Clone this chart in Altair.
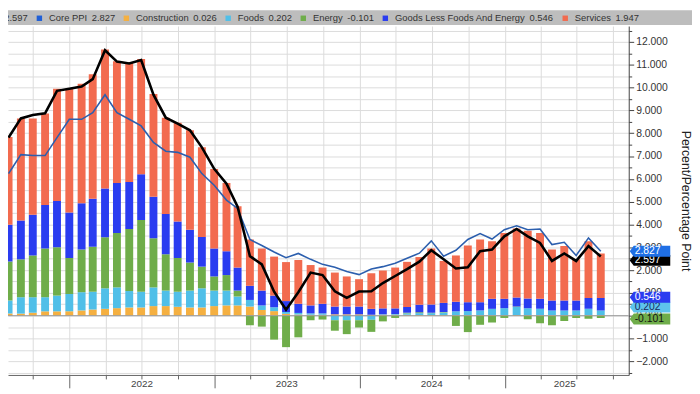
import altair as alt
import pandas as pd

# ---------------- data ----------------
dates = [d.strftime("%Y-%m-%d") for d in
         pd.date_range("2021-07-31", periods=50, freq=pd.offsets.MonthEnd())]

construction = [0.09, 0.09, 0.13, 0.19, 0.19, 0.19,
                0.23, 0.27, 0.30, 0.33, 0.36, 0.36, 0.42, 0.42, 0.39, 0.36, 0.36, 0.42,
                0.45, 0.45, 0.40, 0.25, 0.20, 0.08, 0.05, 0.04, 0.04, 0.06, 0.06, 0.06,
                0.04, 0.04, 0.04, 0.04, 0.03, 0.03, 0.03, 0.03, 0.03, 0.03, 0.03, 0.03,
                0.03, 0.03, 0.03, 0.03, 0.03, 0.03, 0.03, 0.026]
foods = [0.57, 0.72, 0.68, 0.62, 0.69, 0.76,
         0.80, 0.78, 0.90, 0.91, 0.72, 0.69, 0.82, 0.68, 0.66, 0.74, 0.84, 0.68,
         0.65, 0.39, 0.29, 0.20, 0.17, 0.08, 0.07, 0.06, 0.06, -0.20, -0.20, -0.20,
         -0.18, 0.02, 0.03, 0.06, 0.08, 0.08, 0.11, 0.16, 0.17, 0.20, 0.27, 0.30,
         0.35, 0.30, 0.27, 0.20, 0.20, 0.20, 0.27, 0.202]
energy = [1.71, 1.66, 1.83, 2.14, 2.12, 1.58,
          1.87, 1.97, 2.24, 2.39, 2.72, 3.15, 2.15, 1.59, 1.48, 1.23, 0.95, 0.62,
          0.68, 0.26, -0.42, -0.48, -1.05, -1.38, -0.95, -0.20, -0.17, -0.46, -0.61, -0.32,
          -0.53, -0.25, -0.10, 0.03, 0.04, 0.02, 0.02, -0.45, -0.72, -0.40, -0.30, -0.10,
          0.02, -0.16, -0.33, -0.42, -0.23, -0.10, -0.13, -0.101]
goods = [1.62, 1.70, 1.78, 1.90, 2.03, 1.99,
         2.03, 2.11, 2.14, 2.19, 2.06, 2.00, 1.82, 1.77, 1.60, 1.44, 1.30, 1.23,
         1.05, 1.01, 0.62, 0.65, 0.51, 0.48, 0.40, 0.35, 0.42, 0.34, 0.34, 0.34,
         0.26, 0.26, 0.25, 0.25, 0.33, 0.36, 0.40, 0.42, 0.39, 0.36, 0.44, 0.41,
         0.40, 0.42, 0.44, 0.43, 0.43, 0.43, 0.48, 0.546]
services = [3.85, 4.48, 4.23, 4.02, 4.92, 5.43,
            5.24, 5.46, 6.09, 5.34, 5.24, 5.05, 4.51, 4.22, 4.33, 4.36, 3.93, 3.48,
            2.99, 2.69, 2.03, 1.85, 1.71, 1.71, 1.92, 1.77, 1.59, 1.49, 1.32, 1.20,
            1.56, 1.66, 1.79, 1.98, 2.09, 2.46, 1.84, 2.03, 2.49, 2.75, 2.52, 2.88,
            3.02, 2.97, 2.88, 2.24, 2.39, 1.81, 2.48, 1.947]
headline = [7.81, 8.65, 8.80, 8.87, 9.86, 9.95,
            10.05, 10.37, 11.64, 11.14, 11.06, 11.21, 9.69, 8.68, 8.42, 8.13, 7.38, 6.44,
            5.79, 4.78, 2.61, 2.25, 1.05, 0.26, 1.03, 1.89, 1.78, 1.07, 0.78, 1.06,
            1.07, 1.43, 1.74, 2.04, 2.37, 2.87, 2.47, 2.07, 2.12, 2.83, 2.90, 3.48,
            3.80, 3.48, 3.19, 2.40, 2.73, 2.40, 3.05, 2.597]
core = [6.23, 7.06, 7.02, 7.02, 7.81, 8.61,
        8.61, 8.90, 9.69, 8.90, 8.61, 8.32, 7.60, 7.21, 7.16, 6.95, 6.23, 5.72,
        5.07, 4.70, 3.34, 3.08, 2.79, 2.54, 2.73, 2.47, 2.25, 2.12, 1.94, 1.80,
        2.05, 2.15, 2.30, 2.52, 2.74, 3.28, 2.61, 2.87, 3.34, 3.60, 3.36, 3.77,
        3.94, 3.77, 3.80, 3.12, 3.22, 2.64, 3.41, 2.827]

series_names = ["PPI Final Demand", "Core PPI", "Construction", "Foods", "Energy",
                "Goods Less Foods And Energy", "Services"]
last_values = [2.597, 2.827, 0.026, 0.202, -0.101, 0.546, 1.947]
series_colors = ["#000000", "#1f5fd6", "#f5b041", "#50bfe8", "#6fad4a", "#2a3cf0", "#f26b4f"]
legend_labels = [f"{n}\u2002{v:.3f}" for n, v in zip(series_names, last_values)]

year_labels = ["2022", "2023", "2024", "2025"]
year_label_dates = ["2022-07-02", "2023-07-02", "2024-07-01", "2025-06-01"]

# ---------------- tables ----------------
components = [construction, foods, energy, goods, services]
rows = []
for k, comp in enumerate(components):
    lab = legend_labels[k + 2]
    for d, v in zip(dates, comp):
        rows.append({"date": d, "value": v, "label": lab, "ord": k})
bars_df = pd.DataFrame(rows)
head_df = pd.DataFrame({"date": dates, "value": headline})
core_df = pd.DataFrame({"date": dates, "value": core})
years_df = pd.DataFrame({"date": year_label_dates, "label": year_labels})

def ms(s):
    return int(pd.Timestamp(s).value // 10**6)

W, H = 628, 353
TOP, RIGHT, BOTTOM = 16, 64, 17
FONT = "Liberation Sans"

quarters = [ms(d) for d in pd.date_range("2021-10-01", "2025-10-01", freq=pd.offsets.QuarterBegin(startingMonth=1))]

xscale = alt.Scale(domain=[ms("2021-08-11"), ms("2025-10-28")])
xaxis = alt.Axis(values=quarters, labels=False, title=None, grid=True,
                 gridColor="#dcdcdc", gridWidth=1, domainColor="#666", tickColor="#666",
                 tickSize={"condition": {"test": "utcmonth(datum.value) === 0", "value": 13},
                           "value": 4})
yscale = alt.Scale(domain=[-2.60, 12.70], nice=False, zero=False)
yaxis = alt.Axis(orient="right", values=[v / 2 for v in range(-5, 26)],
                 labelExpr="datum.value % 1 === 0 ? format(datum.value, '.3f') : ''",
                 labelOverlap=False, grid=True, gridColor="#dcdcdc", domainColor="#444",
                 tickColor="#444",
                 tickSize={"condition": {"test": "datum.value % 1 !== 0", "value": 3},
                           "value": 5},
                 labelFont=FONT, labelFontSize=10.5, labelColor="#333", labelPadding=2,
                 title="Percent/Percentage Point", titleFont=FONT, titleFontSize=12.5,
                 titleFontWeight="normal", titleColor="#222", titlePadding=11)

X = alt.X("date:T", scale=xscale, axis=xaxis)

band = alt.Chart(pd.DataFrame({"a": [0]})).mark_rect(color="#bdbdbd").encode(
    x=alt.value(0), x2=alt.value(W + RIGHT), y=alt.value(-TOP), y2=alt.value(-1))

bars = alt.Chart(bars_df).mark_bar(size=8, clip=True).encode(
    x=X,
    y=alt.Y("value:Q", stack="zero", scale=yscale, axis=yaxis),
    color=alt.Color("label:N",
                    scale=alt.Scale(domain=legend_labels, range=series_colors),
                    legend=alt.Legend(orient="none", legendX=-100, legendY=-13,
                                      direction="horizontal", columns=7, title=None,
                                      symbolType="square", symbolSize=30,
                                      symbolStrokeWidth=0, labelFont=FONT,
                                      labelFontSize=9.5, labelColor="#333",
                                      columnPadding=6, labelOffset=5,
                                      labelLimit=400, padding=0)),
    order=alt.Order("ord:Q", sort="ascending"))

Y = alt.Y("value:Q", scale=yscale, axis=yaxis)

zero = alt.Chart(pd.DataFrame({"value": [0]})).mark_rule(
    color="#9a9a9a", strokeWidth=1).encode(y=Y)

core_line = alt.Chart(core_df).mark_line(color="#2c5fae", strokeWidth=1.6, clip=True).encode(x=X, y=Y)
head_line = alt.Chart(head_df).mark_line(color="#000000", strokeWidth=2.6, clip=True).encode(x=X, y=Y)

years = alt.Chart(years_df).mark_text(font=FONT, fontSize=10, color="#444",
                                      baseline="middle", align="center").encode(
    x=X, y=alt.value(H + 9), text="label:N")

# value tags on the right axis (drawn bottom-most first)
tag_names = ["PPI Final Demand", "Core PPI", "Energy", "Foods", "Goods Less Foods And Energy"]
tag_fill = ["#000000", "#1f6fe5", "#6fad4a", "#5ec4ec", "#2a3cf0"]
tag_text = ["#ffffff", "#ffffff", "#111111", "#1b2a5e", "#ffffff"]
tag_dy = [4, 0, 1, -4, -6]
TAG_SHAPE = "M-1,0L-0.8,-0.27L1,-0.27L1,0.27L-0.8,0.27Z"

tag_layers = []
for name, fill, tcol, dy in zip(tag_names, tag_fill, tag_text, tag_dy):
    v = last_values[series_names.index(name)]
    df = pd.DataFrame({"value": [v], "txt": [f"{v:.3f}"]})
    tag_layers.append(alt.Chart(df).mark_point(shape=TAG_SHAPE, size=1681, filled=True,
                                              opacity=1, fill=fill, strokeWidth=0,
                                              yOffset=dy).encode(
        x=alt.value(W + 21.5), y=Y))
    tag_layers.append(alt.Chart(df).mark_text(font=FONT, fontSize=10.5, color=tcol,
                                             align="left", baseline="middle", dy=dy).encode(
        x=alt.value(W + 6), y=Y, text="txt:N"))

chart = alt.layer(band, bars, zero, core_line, head_line, years, *tag_layers).properties(
    width=W, height=H,
    autosize=alt.AutoSizeParams(type="none"),
    padding={"left": 0, "top": TOP, "right": RIGHT, "bottom": BOTTOM},
    background="white",
).configure_view(stroke=None)

chart.save("out.html", embed_options={"renderer": "svg", "actions": False})
